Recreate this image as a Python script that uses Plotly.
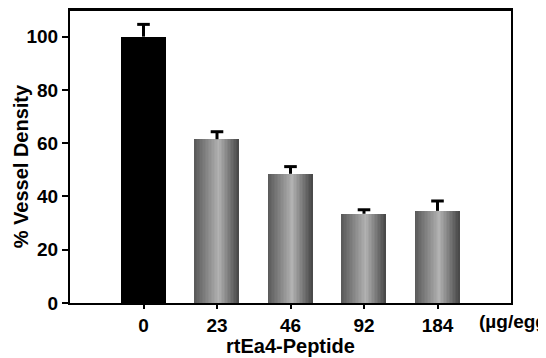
import plotly.graph_objects as go

categories = ["0", "23", "46", "92", "184"]
values = [100, 61.5, 48.5, 33.5, 34.6]
errors = [4.6, 2.8, 2.7, 1.5, 3.7]
y_ticks = [0, 20, 40, 60, 80, 100]
x_title = "rtEa4-Peptide"
unit_label = "(µg/egg)"
y_title = "% Vessel Density"

FONT = dict(family="Liberation Sans, Arial, sans-serif", size=19, color="black", weight="bold")
TITLE_FONT = dict(family="Liberation Sans, Arial, sans-serif", size=20, color="black", weight="bold")

BAR_W = 0.6
N = 30


def grad_color(t):
    # dark edges, light centre slightly right of middle
    stops = [(0.0, 88), (0.55, 178), (1.0, 70)]
    for (t0, c0), (t1, c1) in zip(stops[:-1], stops[1:]):
        if t0 <= t <= t1:
            c = c0 + (c1 - c0) * (t - t0) / (t1 - t0)
            c = int(round(c))
            return f"rgb({c},{c},{c})"
    return "rgb(70,70,70)"


fig = go.Figure()

# solid black control bar
fig.add_trace(go.Bar(x=categories[:1], y=values[:1], width=BAR_W,
                     marker=dict(color="black", line=dict(width=0)),
                     showlegend=False, hoverinfo="skip"))

# gradient bars built from thin slices
for i in range(N):
    t = (i + 0.5) / N
    fig.add_trace(go.Bar(x=categories[1:], y=values[1:],
                         width=BAR_W / N * 1.05,
                         offset=-BAR_W / 2 + i * BAR_W / N,
                         marker=dict(color=grad_color(t), line=dict(width=0)),
                         showlegend=False, hoverinfo="skip"))

# error bars (upper only): stem from bar top up to mean+SE, cap drawn as marker
tops = [v + e for v, e in zip(values, errors)]
fig.add_trace(go.Scatter(x=categories, y=tops, mode="markers",
                         marker=dict(symbol="line-ew", size=9,
                                     line=dict(color="black", width=3)),
                         error_y=dict(type="data", symmetric=False,
                                      array=[0] * len(errors), arrayminus=errors,
                                      color="black", thickness=3, width=0),
                         showlegend=False, hoverinfo="skip"))

fig.update_layout(
    width=546, height=358,
    margin=dict(l=62, r=43, t=2, b=63, pad=0),
    paper_bgcolor="white", plot_bgcolor="white",
    barmode="overlay", bargap=0,
    font=FONT,
    xaxis=dict(type="category", categoryorder="array", categoryarray=categories,
               range=[-1, 5], showgrid=False, zeroline=False, automargin=False,
               showline=True, linecolor="black", linewidth=2, mirror=True,
               ticks="outside", ticklen=4, tickwidth=2, tickcolor="black",
               tickfont=FONT),
    yaxis=dict(range=[0, 110], tickvals=y_ticks, showgrid=False, zeroline=False,
               automargin=False,
               showline=True, linecolor="black", linewidth=2, mirror=True,
               ticks="outside", ticklen=6, tickwidth=2, tickcolor="black",
               tickfont=FONT),
    shapes=[dict(type="line", xref="paper", yref="paper", x0=0, x1=1, y0=1, y1=1,
                 line=dict(color="black", width=2), layer="above")],
    annotations=[
        dict(text=unit_label, xref="paper", yref="paper", x=0.922, y=-0.0627,
             xanchor="left", yanchor="middle", showarrow=False, font=FONT),
        dict(text=x_title, xref="x", yref="paper", x=2, y=-0.146,
             xanchor="center", yanchor="middle", showarrow=False, font=TITLE_FONT),
        dict(text=y_title, xref="paper", yref="paper", x=-0.1122, y=0.465,
             xanchor="center", yanchor="middle", textangle=-90,
             showarrow=False, font=TITLE_FONT),
    ],
)

fig.write_html("out.html")
